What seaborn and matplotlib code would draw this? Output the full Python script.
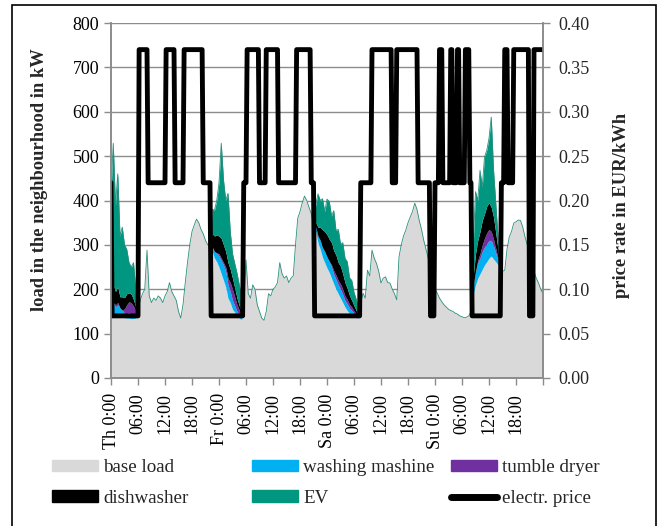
import numpy as np
import matplotlib
matplotlib.use('Agg')
import matplotlib.pyplot as plt
from matplotlib.patches import Patch, Rectangle
from matplotlib.lines import Line2D
import seaborn as sns

# half-hourly grid, Thursday 0:00 to Monday 0:00
hours = np.arange(0, 96.5, 0.5)

base_load = [
    150, 145, 140, 140, 138, 138, 136, 135, 135, 134, 134, 135,   # Th 0-6
    150, 175, 190, 200, 288, 185, 170, 180, 175, 185, 180, 170,   # Th 6-12
    185, 195, 215, 195, 185, 175, 150, 135, 165, 215, 260, 300,   # Th 12-18
    330, 345, 358, 350, 335, 325, 310, 300, 290, 285, 270, 262,   # Th 18-24
    250, 235, 220, 205, 180, 170, 155, 148, 140, 135, 132, 150,   # Fr 0-6
    266, 190, 180, 210, 200, 165, 150, 135, 130, 150, 190, 185,   # Fr 6-12
    200, 205, 215, 260, 235, 225, 230, 215, 225, 230, 300, 360,   # Fr 12-18
    375, 395, 410, 400, 385, 370, 345, 330, 305, 290, 272, 260,   # Fr 18-24
    248, 238, 225, 212, 200, 190, 180, 170, 160, 152, 146, 142,   # Sa 0-6
    138, 136, 135, 165, 191, 180, 243, 230, 288, 270, 258, 240,   # Sa 6-12
    214, 225, 228, 215, 214, 200, 190, 176, 273, 300, 320, 333,   # Sa 12-18
    350, 363, 375, 394, 380, 355, 335, 310, 290, 270, 250, 220,   # Sa 18-24
    200, 191, 180, 172, 165, 160, 155, 152, 150, 146, 144, 140,   # Su 0-6
    138, 136, 137, 140, 150, 190, 210, 225, 235, 245, 255, 262,   # Su 6-12
    270, 275, 268, 262, 255, 245, 240, 243, 290, 318, 330, 349,   # Su 12-18
    352, 356, 355, 340, 318, 300, 280, 260, 240, 225, 214, 200,   # Su 18-24
    190,
]

washing = ([15, 25, 20, 25, 20, 15, 10, 10, 12, 10, 8, 5] + [0] * 32
           + [0, 10, 15, 20, 25, 30, 35, 35, 30, 25, 20, 15, 10, 8, 5, 0] + [0] * 31
           + [10, 15, 20, 22, 25, 25, 25, 25, 22, 22, 20, 20, 18, 15, 15, 12, 10, 8, 5, 0] + [0] * 50
           + [20, 30, 35, 35, 40, 40, 40, 40, 35, 30, 20, 10] + [0] * 20)

tumble = ([0, 0, 5, 5, 0, 0, 10, 20, 25, 25, 20, 10] + [0] * 32
          + [0, 0, 0, 0, 5, 5, 5, 10, 15, 20, 25, 20, 15, 10, 5, 0] + [0] * 31
          + [0, 0, 0, 0, 0, 0, 0, 5, 8, 10, 10, 12, 12, 10, 10, 8, 8, 5, 3, 0] + [0] * 50
          + [0, 0, 5, 10, 15, 20, 25, 25, 20, 15, 10, 5] + [0] * 20)

dishwasher = ([30, 40, 30, 35, 25, 30, 25, 25, 20, 20, 15, 10] + [0] * 32
              + [0, 30, 35, 40, 40, 45, 40, 35, 35, 30, 25, 20, 15, 10, 8, 0] + [0] * 31
              + [10, 20, 30, 40, 45, 50, 50, 50, 45, 45, 40, 40, 35, 30, 25, 20, 15, 12, 8, 5] + [0] * 50
              + [20, 40, 45, 50, 55, 55, 60, 60, 55, 50, 35, 20] + [0] * 20)

ev = ([225, 319, 195, 255, 137, 157, 119, 100, 68, 61, 83, 40] + [0] * 32
      + [10, 55, 58, 78, 120, 214, 146, 115, 156, 85, 55, 55, 56, 47, 35, 0] + [0] * 31
      + [40, 75, 60, 70, 45, 80, 85, 60, 90, 55, 75, 50, 70, 55, 60, 40, 45, 30, 25, 15] + [0] * 50
      + [70, 140, 90, 138, 75, 128, 126, 145, 203, 107, 67, 28] + [0] * 20)

# electricity price: time of each change (h) and rate (EUR/kWh)
price_hours = [0, 0.25, 6, 6.25, 8, 8.25, 12, 12.25, 14, 14.25, 16, 16.25, 20.25, 20.5, 22, 22.25,
               29.25, 29.5, 30, 30.25, 32.75, 33, 34.25, 34.5, 37, 37.25, 41, 41.25, 44.25, 44.5, 45, 45.25,
               55.25, 55.5, 57.75, 58, 62.25, 62.5, 63.25, 63.5, 68, 68.25, 70.75, 71, 71.75, 72,
               72.75, 73, 73.5, 73.75, 75.25, 75.5, 75.75, 76, 76.75, 77, 77.25, 77.5, 78.5, 78.75,
               79.5, 79.75, 80, 80.25, 86.5, 86.75, 87.25, 87.5, 88, 88.25, 89.25, 89.5, 92.75, 93,
               93.75, 94, 96]
price_rate = [0.22, 0.07, 0.07, 0.37, 0.37, 0.22, 0.22, 0.37, 0.37, 0.22, 0.22, 0.37, 0.37, 0.22, 0.22, 0.07,
              0.07, 0.22, 0.22, 0.37, 0.37, 0.22, 0.22, 0.37, 0.37, 0.22, 0.22, 0.37, 0.37, 0.22, 0.22, 0.07,
              0.07, 0.22, 0.22, 0.37, 0.37, 0.22, 0.22, 0.37, 0.37, 0.22, 0.22, 0.07, 0.07, 0.22,
              0.22, 0.37, 0.37, 0.22, 0.22, 0.37, 0.37, 0.22, 0.22, 0.37, 0.37, 0.22, 0.22, 0.37,
              0.37, 0.22, 0.22, 0.07, 0.07, 0.22, 0.22, 0.37, 0.37, 0.22, 0.22, 0.37, 0.37, 0.07,
              0.07, 0.37, 0.37]

series_names = ['base load', 'washing mashine', 'tumble dryer', 'dishwasher', 'EV']
series_colors = ['#d9d9d9', '#00b0f0', '#7030a0', '#000000', '#009680']
x_labels = ['Th 0:00', '06:00', '12:00', '18:00', 'Fr 0:00', '06:00', '12:00', '18:00',
            'Sa 0:00', '06:00', '12:00', '18:00', 'Su 0:00', '06:00', '12:00', '18:00', '']

sns.set_theme(style='white')
plt.rcParams['font.family'] = ['Liberation Serif', 'DejaVu Serif']
grey = '#8c8c8c'

fig = plt.figure(figsize=(6.62, 5.26), dpi=100)
ax = fig.add_axes([111 / 662, 1 - 378 / 526, 432 / 662, 355 / 526])

layers = [np.array(base_load), np.array(washing), np.array(tumble), np.array(dishwasher), np.array(ev)]
ax.stackplot(hours, layers, colors=series_colors, linewidth=0)
sns.lineplot(x=hours, y=sum(layers), ax=ax, color='#2a8f7c', lw=0.6)

ax.set_xlim(0, 96)
ax.set_ylim(0, 800)
ax.set_yticks(range(0, 801, 100))
ax.set_xticks(range(0, 97, 6))
ax.set_xticklabels(x_labels, rotation=90)
ax.grid(axis='y', color=grey, lw=1.0)
ax.grid(axis='x', visible=False)
ax.set_axisbelow(True)
ax.tick_params(axis='both', bottom=True, left=True, direction='out', length=5, width=1,
               color=grey, labelsize=13, labelcolor='black')
ax.tick_params(axis='x', pad=6)
for side in ['left', 'bottom', 'right']:
    ax.spines[side].set_color(grey)
    ax.spines[side].set_linewidth(1.2)
ax.spines['top'].set_visible(False)
ax.set_ylabel('load in the neighbourhood in kW', fontsize=13.3, fontweight='bold')
ax.yaxis.set_label_coords(-0.145, 0.56)

ax2 = ax.twinx()
sns.lineplot(x=price_hours, y=price_rate, ax=ax2, color='black', lw=3.5, sort=False, estimator=None)
ax2.set_ylim(0, 0.40)
ax2.set_yticks(np.arange(0, 0.401, 0.05))
ax2.set_yticklabels([f'{v:.2f}' for v in np.arange(0, 0.401, 0.05)])
ax2.tick_params(axis='y', right=True, direction='out', length=5, width=1, color=grey,
                labelsize=13, pad=6)
ax2.grid(False)
for side in ['left', 'bottom', 'right']:
    ax2.spines[side].set_color(grey)
    ax2.spines[side].set_linewidth(1.2)
ax2.spines['top'].set_visible(False)
ax2.set_ylabel('price rate in EUR/kWh', fontsize=13.3, fontweight='bold')
ax2.yaxis.set_label_coords(1.162, 0.487)

# legend in three columns like the original
handles = [Patch(color=c) for c in series_colors]
price_handle = Line2D([0], [0], color='black', lw=5, solid_capstyle='round')
columns = [
    ([handles[0], handles[3]], ['base load', 'dishwasher'], 52),
    ([handles[1], handles[4]], ['washing mashine', 'EV'], 252),
    ([handles[2], price_handle], ['tumble dryer', 'electr. price'], 451),
]
for h, l, x in columns:
    fig.legend(h, l, loc='upper left', bbox_to_anchor=(x / 662, 1 - 459 / 526), frameon=False,
               fontsize=13.7, handlelength=2.4, handleheight=0.52, handletextpad=0.28,
               labelspacing=0.72, borderpad=0, borderaxespad=0)

fig.patches.append(Rectangle((12 / 662, -0.01), 644 / 662, 1 - 5 / 526 + 0.01,
                             transform=fig.transFigure, fill=False, edgecolor='black', lw=1.2))

fig.savefig('out.png', dpi=100)
